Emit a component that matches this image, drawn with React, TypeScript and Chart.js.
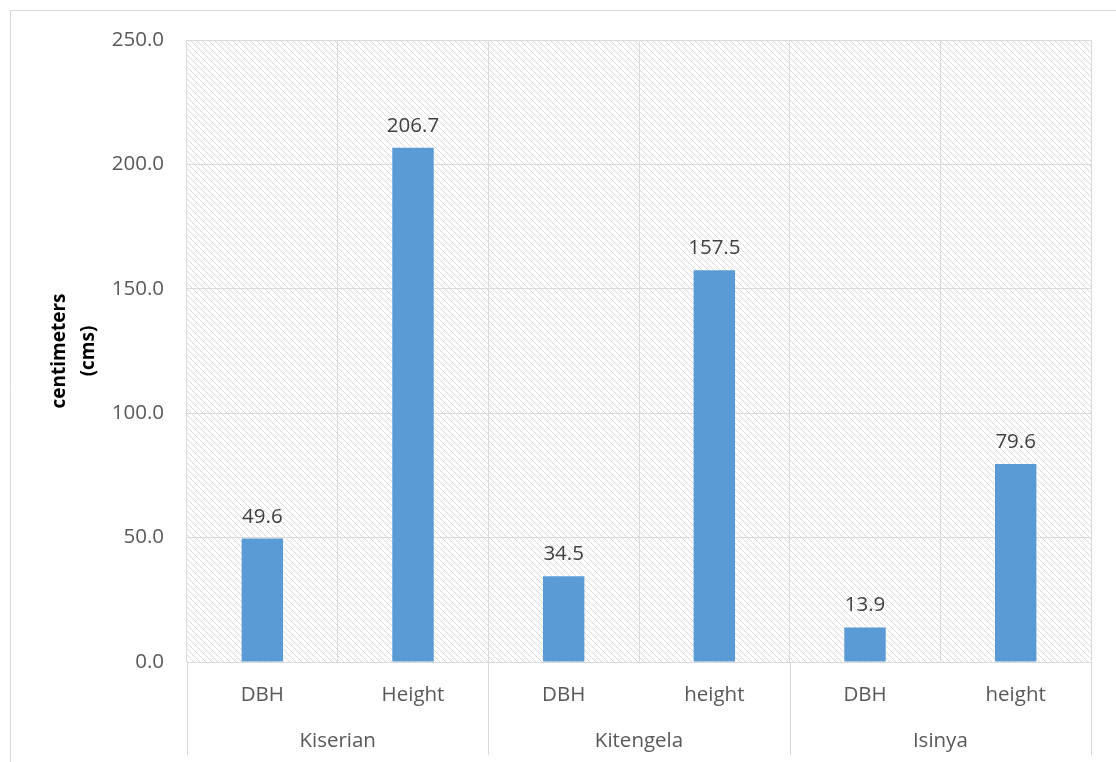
import React, { useEffect, useRef } from "react";
import { Chart, registerables } from "chart.js";

Chart.register(...registerables);

const subCategories = ["DBH", "Height", "DBH", "height", "DBH", "height"];
const groups = ["Kiserian", "Kitengela", "Isinya"];
const groupSize = 2;
const values = [49.6, 206.7, 34.5, 157.5, 13.9, 79.6];
const yTicks = [0, 50, 100, 150, 200, 250];
const yTitleLines = ["centimeters", "(cms)"];

const FONT = "'Open Sans', 'DejaVu Sans', sans-serif";
const FS = 20.5;
const GRID = "#d9d9d9";
const TEXT = "#595959";

function makePattern(ctx: CanvasRenderingContext2D) {
  const c = document.createElement("canvas");
  c.width = 6;
  c.height = 6;
  const p = c.getContext("2d")!;
  p.fillStyle = "#ffffff";
  p.fillRect(0, 0, 6, 6);
  p.strokeStyle = "#d9d9d9";
  p.lineWidth = 1;
  p.beginPath();
  p.moveTo(-1, -1);
  p.lineTo(7, 7);
  p.moveTo(-1, 5);
  p.lineTo(1, 7);
  p.moveTo(5, -1);
  p.lineTo(7, 1);
  p.stroke();
  return ctx.createPattern(c, "repeat")!;
}

const customPlugin = {
  id: "custom",
  beforeDraw(chart: any) {
    const { ctx, chartArea } = chart;
    ctx.save();
    ctx.fillStyle = "#ffffff";
    ctx.fillRect(0, 0, chart.width, chart.height);
    // frame
    ctx.strokeStyle = GRID;
    ctx.lineWidth = 1;
    ctx.beginPath();
    ctx.moveTo(10.5, chart.height + 5);
    ctx.lineTo(10.5, 10.5);
    ctx.lineTo(chart.width + 5, 10.5);
    ctx.stroke();
    // hatch
    ctx.fillStyle = makePattern(ctx);
    ctx.fillRect(chartArea.left, chartArea.top, chartArea.right - chartArea.left, chartArea.bottom - chartArea.top);
    ctx.restore();
  },
  afterDraw(chart: any) {
    const { ctx, chartArea } = chart;
    const x = chart.scales.x;
    ctx.save();
    // group separators and labels
    const n = subCategories.length;
    const half = (x.getPixelForValue(1) - x.getPixelForValue(0)) / 2;
    ctx.strokeStyle = GRID;
    ctx.lineWidth = 1;
    for (let g = 0; g <= groups.length; g++) {
      const idx = Math.min(g * groupSize, n - 1);
      const px = g * groupSize >= n ? x.getPixelForValue(n - 1) + half : x.getPixelForValue(idx) - half;
      const xx = Math.round(px) + 0.5;
      ctx.beginPath();
      ctx.moveTo(xx, chartArea.bottom);
      ctx.lineTo(xx, chartArea.bottom + 93);
      ctx.stroke();
    }
    ctx.fillStyle = TEXT;
    ctx.font = `${FS}px ${FONT}`;
    ctx.textAlign = "center";
    ctx.textBaseline = "middle";
    groups.forEach((gname, g) => {
      const a = x.getPixelForValue(g * groupSize) - half;
      const b = x.getPixelForValue(g * groupSize + groupSize - 1) + half;
      ctx.fillText(gname, (a + b) / 2, chartArea.bottom + 79);
    });
    // y title
    ctx.font = `bold 19px ${FONT}`;
    ctx.fillStyle = "#000000";
    const cy = (chartArea.top + chartArea.bottom) / 2;
    ctx.translate(0, cy);
    ctx.rotate(-Math.PI / 2);
    ctx.fillText(yTitleLines[0], 0, 60);
    ctx.fillText(yTitleLines[1], 0, 89);
    ctx.restore();
  },
  afterDatasetsDraw(chart: any) {
    const { ctx } = chart;
    const meta = chart.getDatasetMeta(0);
    ctx.save();
    ctx.fillStyle = "#404040";
    ctx.font = `${FS}px ${FONT}`;
    ctx.textAlign = "center";
    ctx.textBaseline = "alphabetic";
    meta.data.forEach((el: any, i: number) => {
      ctx.fillText(values[i].toFixed(1), el.x, el.y - 16);
    });
    ctx.restore();
  },
};

export default function App() {
  const ref = useRef<HTMLCanvasElement>(null);
  useEffect(() => {
    const chart = new Chart(ref.current!, {
      type: "bar",
      data: {
        labels: subCategories,
        datasets: [
          {
            data: values,
            backgroundColor: "#5b9bd5",
            borderWidth: 0,
            barPercentage: 0.275,
            categoryPercentage: 1,
          },
        ],
      },
      options: {
        animation: false,
        responsive: false,
        events: [],
        layout: { padding: { left: 10, top: 40, right: 25, bottom: 0 } },
        plugins: { legend: { display: false }, tooltip: { enabled: false } },
        scales: {
          x: {
            grid: { color: GRID, offset: true, drawTicks: false },
            border: { color: GRID },
            ticks: { color: TEXT, font: { family: FONT, size: FS }, padding: 21 },
            afterFit(scale: any) {
              scale.height = 100;
            },
          },
          y: {
            min: 0,
            max: 250,
            afterBuildTicks(scale: any) {
              scale.ticks = yTicks.map((v) => ({ value: v }));
            },
            grid: { color: GRID, drawTicks: false },
            border: { display: false },
            ticks: {
              color: TEXT,
              font: { family: FONT, size: FS },
              padding: 23,
              callback: (v: any) => Number(v).toFixed(1),
            },
            afterFit(scale: any) {
              scale.width = 177;
            },
          },
        },
      },
      plugins: [customPlugin],
    });
    return () => chart.destroy();
  }, []);
  return (
    <div style={{ position: "fixed", left: 0, top: 0, width: 1116, height: 762 }}>
      <canvas ref={ref} width={1116} height={762} style={{ display: "block" }} />
    </div>
  );
}
